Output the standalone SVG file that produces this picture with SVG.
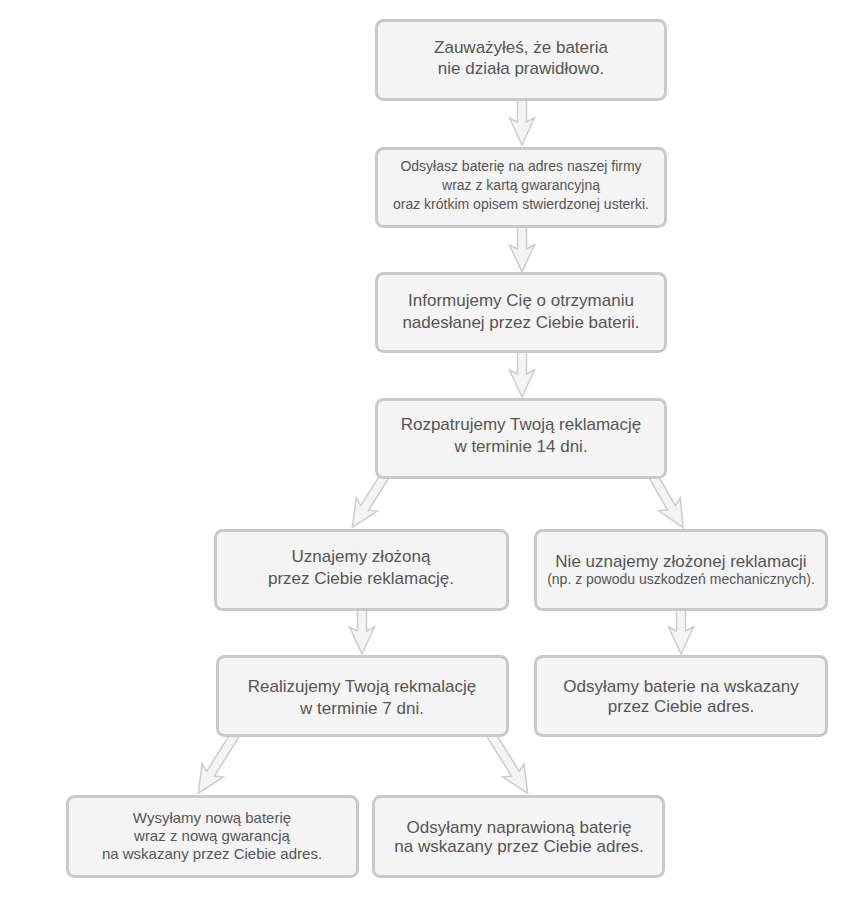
<svg xmlns="http://www.w3.org/2000/svg" width="850" height="907" viewBox="0 0 850 907">
<style>
.box{fill:#f4f4f4;stroke:#c9c9c9;stroke-width:3}
.t{font-family:"Liberation Sans",Arial,sans-serif;font-size:17px;fill:#555;text-anchor:middle}
.s{font-size:14px}
.m{font-size:15px}
.arr{fill:#f4f4f4;stroke:#cccccc;stroke-width:1.5;stroke-linejoin:miter}
</style>
<rect width="850" height="907" fill="#fff"/>
<g id="connectors">
<path class="arr" transform="translate(522,96)" d="M-4.5,0 L-4.5,26 L-12.5,22 Q-6,36 0,49 Q6,36 12.5,22 L4.5,26 L4.5,0 Z"/>
<path class="arr" transform="translate(522,223)" d="M-4.5,0 L-4.5,26 L-12.5,22 Q-6,36 0,49 Q6,36 12.5,22 L4.5,26 L4.5,0 Z"/>
<path class="arr" transform="translate(522,348)" d="M-4.5,0 L-4.5,26 L-12.5,22 Q-6,36 0,49 Q6,36 12.5,22 L4.5,26 L4.5,0 Z"/>
<path class="arr" transform="translate(386,474) rotate(32.3)" d="M-4.5,0 L-4.5,40 L-12.5,36 Q-6,50 0,63 Q6,50 12.5,36 L4.5,40 L4.5,0 Z"/>
<path class="arr" transform="translate(652,474) rotate(-30)" d="M-4.5,0 L-4.5,39 L-12.5,35 Q-6,49 0,62 Q6,49 12.5,35 L4.5,39 L4.5,0 Z"/>
<path class="arr" transform="translate(362,606)" d="M-4.5,0 L-4.5,25 L-12.5,21 Q-6,35 0,48 Q6,35 12.5,21 L4.5,25 L4.5,0 Z"/>
<path class="arr" transform="translate(681,606)" d="M-4.5,0 L-4.5,25 L-12.5,21 Q-6,35 0,48 Q6,35 12.5,21 L4.5,25 L4.5,0 Z"/>
<path class="arr" transform="translate(236,733) rotate(32)" d="M-4.5,0 L-4.5,48 L-12.5,44 Q-6,58 0,71 Q6,58 12.5,44 L4.5,48 L4.5,0 Z"/>
<path class="arr" transform="translate(490,733) rotate(-32)" d="M-4.5,0 L-4.5,48 L-12.5,44 Q-6,58 0,71 Q6,58 12.5,44 L4.5,48 L4.5,0 Z"/>
</g>
<g id="n1"><rect class="box" x="376.5" y="20.5" width="289" height="79" rx="7"/>
<text class="t" x="521" y="53">Zauważyłeś, że bateria</text><text class="t" x="521" y="74">nie działa prawidłowo.</text></g>
<g id="n2"><rect class="box" x="376.5" y="148.5" width="289" height="78" rx="7"/>
<text class="t s" x="521" y="171">Odsyłasz baterię na adres naszej firmy</text><text class="t s" x="521" y="190">wraz z kartą gwarancyjną</text><text class="t s" x="521" y="209">oraz krótkim opisem stwierdzonej usterki.</text></g>
<g id="n3"><rect class="box" x="376.5" y="273.5" width="289" height="78" rx="7"/>
<text class="t" x="521" y="306">Informujemy Cię o otrzymaniu</text><text class="t" x="521" y="328">nadesłanej przez Ciebie baterii.</text></g>
<g id="n4"><rect class="box" x="376.5" y="399.5" width="289" height="78" rx="7"/>
<text class="t" x="521" y="430">Rozpatrujemy Twoją reklamację</text><text class="t" x="521" y="452">w terminie 14 dni.</text></g>
<g id="n5"><rect class="box" x="215.5" y="530.5" width="292" height="79" rx="7"/>
<text class="t" x="361" y="562">Uznajemy złożoną</text><text class="t" x="361" y="584">przez Ciebie reklamację.</text></g>
<g id="n6"><rect class="box" x="535.5" y="530.5" width="291" height="79" rx="7"/>
<text class="t" x="681" y="567">Nie uznajemy złożonej reklamacji</text><text class="t s" x="681" y="584">(np. z powodu uszkodzeń mechanicznych).</text></g>
<g id="n7"><rect class="box" x="217.5" y="656.5" width="290" height="79" rx="7"/>
<text class="t" x="362" y="692">Realizujemy Twoją rekmalację</text><text class="t" x="362" y="714">w terminie 7 dni.</text></g>
<g id="n8"><rect class="box" x="535.5" y="656.5" width="291" height="79" rx="7"/>
<text class="t" x="681" y="692">Odsyłamy baterie na wskazany</text><text class="t" x="681" y="712">przez Ciebie adres.</text></g>
<g id="n9"><rect class="box" x="67.5" y="796.5" width="290" height="80" rx="7"/>
<text class="t m" x="212" y="823">Wysyłamy nową baterię</text><text class="t m" x="212" y="841">wraz z nową gwarancją</text><text class="t m" x="212" y="859">na wskazany przez Ciebie adres.</text></g>
<g id="n10"><rect class="box" x="373.5" y="796.5" width="290" height="80" rx="7"/>
<text class="t" x="519" y="833">Odsyłamy naprawioną baterię</text><text class="t" x="519" y="852">na wskazany przez Ciebie adres.</text></g>
</svg>
